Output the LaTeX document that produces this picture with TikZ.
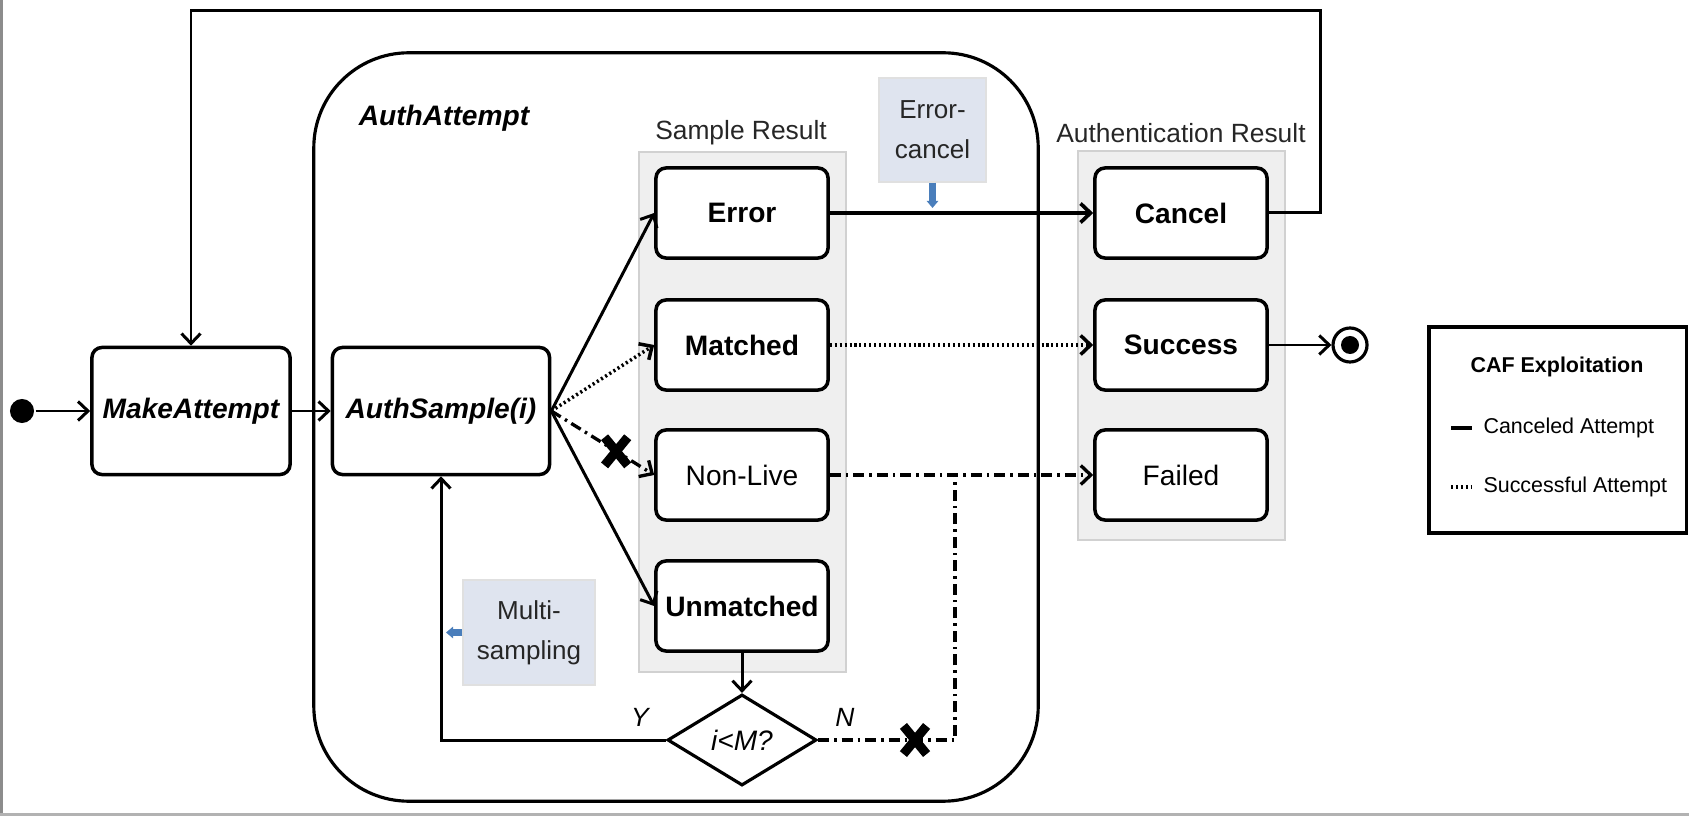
\documentclass[tikz,border=0pt]{standalone}
\usepackage{fontspec}
\setmainfont{Liberation Sans}
\usetikzlibrary{arrows.meta,shapes.geometric,shapes.misc}

\definecolor{panelgray}{RGB}{239,239,239}
\definecolor{noteblue}{RGB}{223,228,239}
\definecolor{markblue}{RGB}{74,126,187}

\begin{document}
\begin{tikzpicture}[x=0.01cm, y=-0.01cm, >={Straight Barb[length=1mm,width=1.9mm]}, line width=0.85pt]
    \tikzstyle{state}=[rectangle, rounded corners=0.1cm, draw, line width=1pt, fill=white, minimum width=1.72cm, minimum height=0.9cm, inner sep=0pt, font=\fontsize{8}{9.6}\selectfont]
    \tikzstyle{boldstate}=[state, font=\fontsize{8}{9.6}\selectfont\bfseries]
    \tikzstyle{action}=[state, minimum width=1.98cm, minimum height=1.27cm, font=\fontsize{8}{9.6}\selectfont\bfseries\itshape]
    \tikzstyle{panel}=[rectangle, fill=panelgray, draw=black!18, line width=0.4pt, inner sep=0pt]
    \tikzstyle{paneltitle}=[inner sep=0pt, text=black!85, font=\fontsize{7.5}{9}\selectfont]
    \tikzstyle{note}=[rectangle, fill=noteblue, draw=black!12, line width=0.4pt, align=center, inner sep=0pt, text=black!85, font=\fontsize{7.4}{11.4}\selectfont]
    \tikzstyle{notelink}=[draw=markblue, line width=2pt, -{Triangle[length=0.7mm,width=3.2pt]}, shorten >=0.05cm]
    \tikzstyle{xmark}=[cross out, draw, solid, line width=2.6pt, minimum width=0.14cm, minimum height=0.19cm, inner sep=0pt]
    \tikzstyle{dots}=[dash pattern=on 0.6pt off 0.8pt, line width=1pt]
    \tikzstyle{dashdot}=[dash pattern=on 0.11cm off 0.05cm on 0.025cm off 0.05cm, line width=0.95pt]
    \tikzstyle{branch}=[inner sep=0pt, font=\fontsize{7.5}{9}\selectfont\itshape]

    \useasboundingbox (0,0) rectangle (1689,816);
    \fill[black!45] (0,0) rectangle (3,816);
    \fill[black!30] (0,813) rectangle (1689,816);

    % composite state and the two result groups
    \node[rectangle, draw, line width=0.9pt, rounded corners=0.95cm, minimum width=7.24cm, minimum height=7.48cm] (aa) at (676,427) {};
    \node[inner sep=0pt, font=\fontsize{8}{9.6}\selectfont\bfseries\itshape] (aatitle) at (444,118) {AuthAttempt};

    \node[panel, minimum width=2.07cm, minimum height=5.2cm] (sp) at (742.5,412) {};
    \node[panel, minimum width=2.07cm, minimum height=3.89cm] (ap) at (1181.5,345.5) {};
    \node[paneltitle] (sptitle) at (741,133) {Sample Result};
    \node[paneltitle] (aptitle) at (1181,133) {Authentication Result};

    % states
    \node[circle, fill, minimum size=0.24cm, inner sep=0pt] (init) at (22,411) {};
    \node[action] (make) at (191,411) {MakeAttempt};
    \node[action, minimum width=2.17cm] (as) at (441,411) {AuthSample(i)};

    \node[boldstate] (err) at (742,213) {Error};
    \node[boldstate] (mat) at (742,345) {Matched};
    \node[state] (nl) at (742,475) {Non-Live};
    \node[boldstate] (unm) at (742,606) {Unmatched};

    \node[boldstate] (cancel) at (1181,213) {Cancel};
    \node[boldstate] (succ) at (1181,345) {Success};
    \node[state] (failed) at (1181,475) {Failed};

    \node[circle, draw, line width=0.9pt, fill=white, minimum size=0.34cm, inner sep=0pt] (final) at (1350,345) {};
    \node[circle, fill, minimum size=0.18cm, inner sep=0pt] (finaldot) at (final) {};

    \node[diamond, draw, line width=0.9pt, fill=white, minimum width=1.49cm, minimum height=0.91cm, inner sep=0pt, font=\fontsize{8}{9.6}\selectfont\itshape] (dec) at (742,740) {i<M?};
    \node[branch] (ylab) at (640,717) {Y};
    \node[branch] (nlab) at (845,717) {N};
    \coordinate (join) at (955,475);

    % transitions
    \draw[->] (init) -- (make.west);
    \draw[->] (make) -- (as);
    \draw[->] (as.east) -- (err.west);
    \draw[->, dots] (as.east) -- (mat.west);
    \draw[->, dashdot] (as.east) -- node[xmark, pos=0.63] (x1) {} (nl.west);
    \draw[->] (as.east) -- (unm.west);

    \draw[->, line width=1.05pt] (err) -- (cancel);
    \draw[->, dots] (mat) -- (succ);
    \draw[->, dashdot] (nl) -- (failed);
    \draw[->] (succ) -- (final);
    \draw[->] (cancel.east) -- ++(52,0) -- ++(0,-202) -| (make.north);

    \draw[->] (unm) -- (dec);
    \draw[->] (dec.west) -| (as.south);
    \draw[dashdot] (dec.east) -| (join);
    \node[xmark] (x2) at (915,740) {};

    % notes
    \node[note, minimum width=1.07cm, minimum height=1.04cm] (ecnote) at (932.5,130) {Error-\\cancel};
    \draw[notelink] (ecnote.south) -- (ecnote.south |- err.east);
    \node[note, minimum width=1.32cm, minimum height=1.05cm] (msnote) at (529,632.5) {Multi-\\sampling};
    \draw[notelink] (msnote.west) -- (msnote.west -| as.south);

    % legend
    \node[rectangle, draw, line width=0.9pt, minimum width=2.57cm, minimum height=2.06cm] (legend) at (1557.5,430) {};
    \node[inner sep=0pt, font=\fontsize{6.1}{7}\selectfont\bfseries] (legtitle) at (1557,367) {CAF Exploitation};
    \draw[line width=1.3pt] (1451,428) -- (1472,428);
    \node[anchor=west, inner sep=0pt, font=\fontsize{6.1}{7}\selectfont] (legcancel) at (1482,428) {Canceled Attempt};
    \draw[dots] (1451,487) -- (1472,487);
    \node[anchor=west, inner sep=0pt, font=\fontsize{6.1}{7}\selectfont] (legsuccess) at (1482,487) {Successful Attempt};
\end{tikzpicture}
\end{document}
